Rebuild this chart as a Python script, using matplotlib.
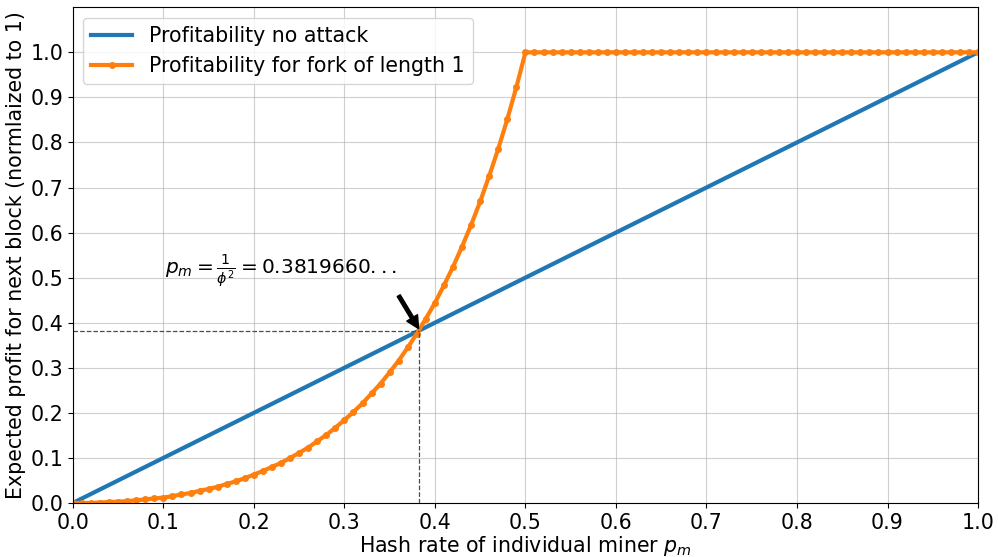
import numpy as np
import matplotlib
matplotlib.use("Agg")
import matplotlib.pyplot as plt

#-----------------------------------------------------------------------------#
# Values
#-----------------------------------------------------------------------------#
hash_rate = np.linspace(0., 1., 101)  # p_m grid, step 0.01

# no attack: profit grows linearly with hash rate
no_attack_x = [0.0, 1.0]
no_attack_y = [0.0, 1.0]

# fork of length 1, one value per 0.01 of hash rate
fork_profit = [
    0.000, 0.000, 0.000, 0.001, 0.002, 0.003, 0.004, 0.006, 0.008, 0.010,
    0.012, 0.015, 0.019, 0.022, 0.027, 0.031, 0.036, 0.042, 0.048, 0.055,
    0.063, 0.071, 0.080, 0.089, 0.100, 0.111, 0.123, 0.137, 0.151, 0.167,
    0.184, 0.202, 0.221, 0.243, 0.265, 0.290, 0.316, 0.345, 0.376, 0.409,
    0.444, 0.483, 0.524, 0.569, 0.617, 0.669, 0.726, 0.786, 0.852, 0.923,
    1.000, 1.000, 1.000, 1.000, 1.000, 1.000, 1.000, 1.000, 1.000, 1.000,
    1.000, 1.000, 1.000, 1.000, 1.000, 1.000, 1.000, 1.000, 1.000, 1.000,
    1.000, 1.000, 1.000, 1.000, 1.000, 1.000, 1.000, 1.000, 1.000, 1.000,
    1.000, 1.000, 1.000, 1.000, 1.000, 1.000, 1.000, 1.000, 1.000, 1.000,
    1.000, 1.000, 1.000, 1.000, 1.000, 1.000, 1.000, 1.000, 1.000, 1.000,
    1.000]

p_cross = 0.3819660  # 1/phi^2

#-----------------------------------------------------------------------------#
# Plot
#-----------------------------------------------------------------------------#
plt.rcParams['font.size'] = 14.8
fig = plt.figure(figsize=(9.98, 5.57), dpi=100)
ax = fig.add_axes([0.073, 0.097, 0.907, 0.89])

ax.plot(no_attack_x, no_attack_y, color='tab:blue', linewidth=3,
        label='Profitability no attack')
ax.plot(hash_rate, fork_profit, color='tab:orange', linewidth=3,
        marker='o', markersize=4, label='Profitability for fork of length 1')

# dashed guides to the crossing point
ax.plot([0, p_cross], [p_cross, p_cross], color='0.3', linestyle='--', linewidth=0.9)
ax.plot([p_cross, p_cross], [0, p_cross], color='0.3', linestyle='--', linewidth=0.9)

ax.annotate('', xy=(p_cross, p_cross + 0.005), xytext=(0.36, 0.46),
            arrowprops=dict(facecolor='black', edgecolor='black',
                            width=2.5, headwidth=9, headlength=9, shrink=0.0))
ax.text(0.102, 0.51, r'$p_m = \frac{1}{\phi^2} = 0.3819660...$', fontsize=14.5)

ax.set_xlim(0., 1.)
ax.set_ylim(0., 1.1)
ax.set_xticks(np.arange(0, 1.01, 0.1))
ax.set_yticks(np.arange(0, 1.01, 0.1))
ax.grid(True, alpha=0.6)
ax.set_xlabel(r'Hash rate of individual miner $p_m$', labelpad=1)
ax.set_ylabel('Expected profit for next block (normlaized to 1)', labelpad=3)
ax.legend(loc='upper left')

fig.savefig('out.png', dpi=100)
